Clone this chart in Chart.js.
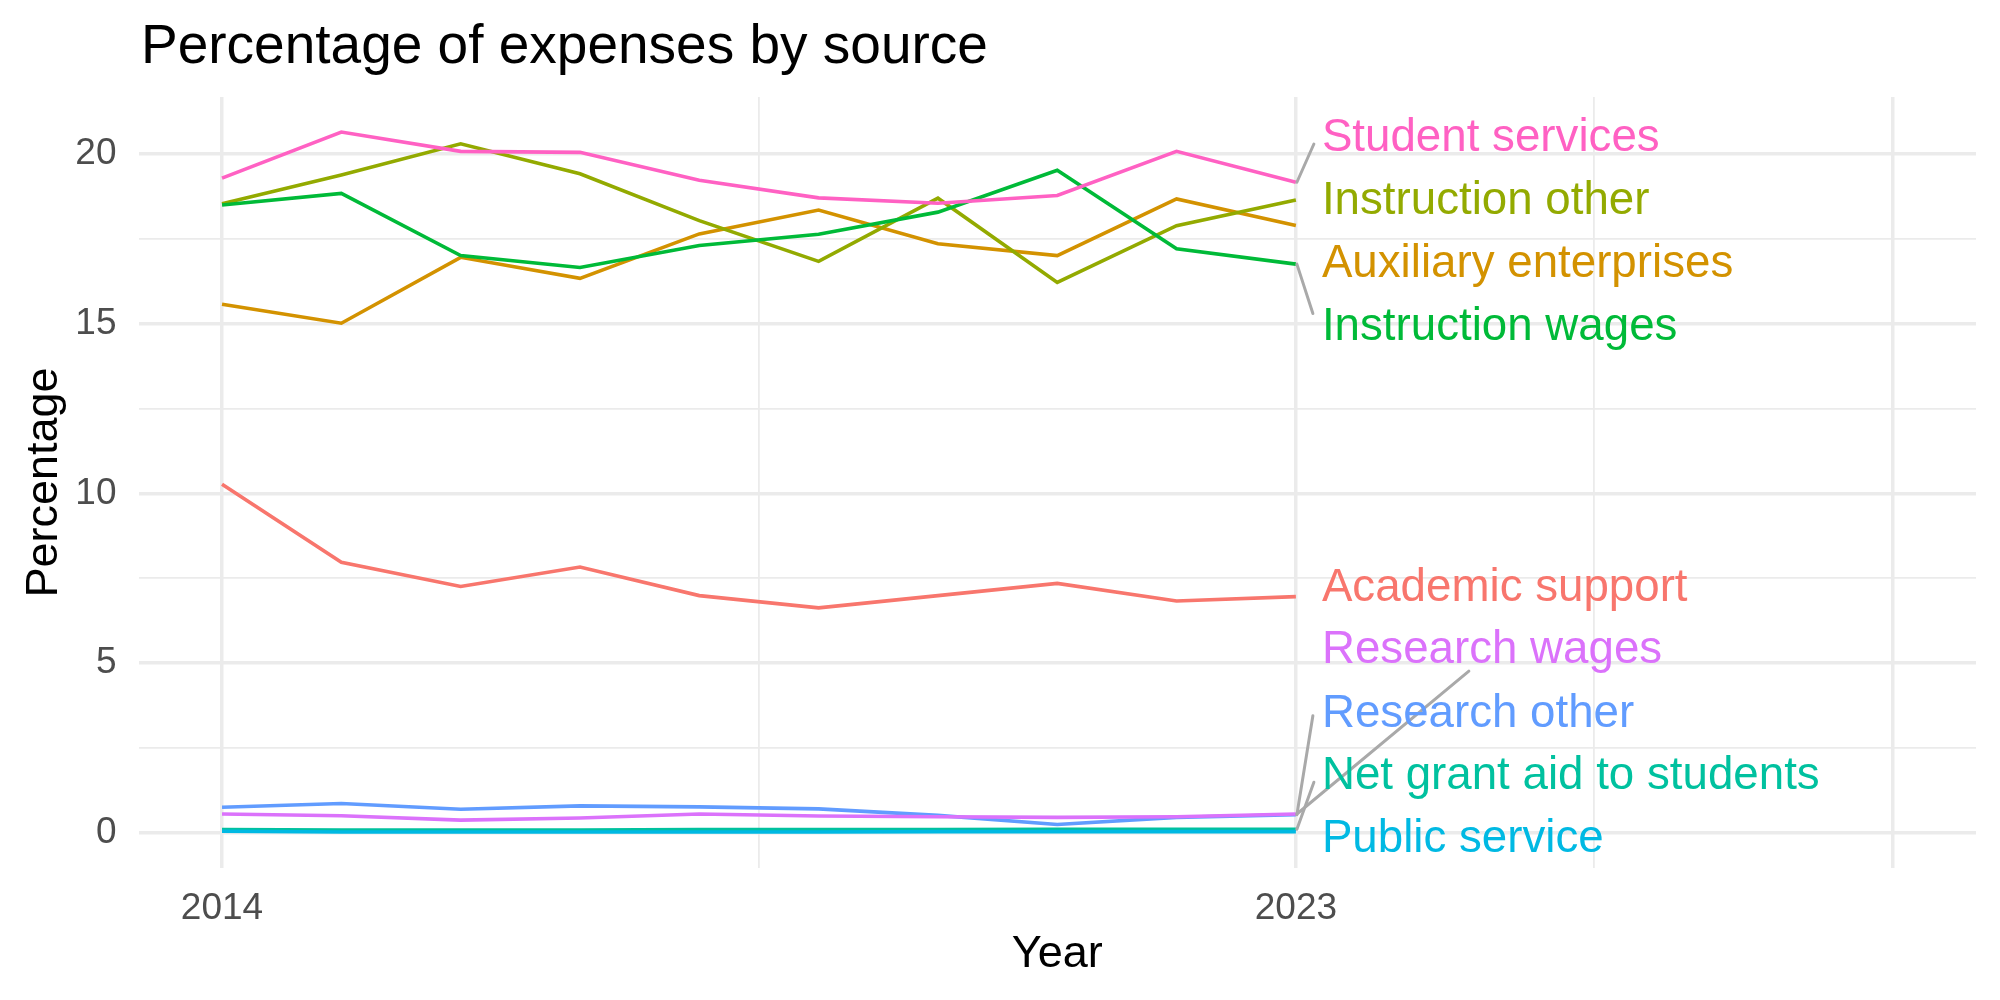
<!DOCTYPE html>
<html>
<head>
<meta charset="utf-8">
<script src="https://cdn.jsdelivr.net/npm/chart.js@4.4.1/dist/chart.umd.min.js"></script>
<style>
  html, body { margin: 0; padding: 0; background: #fff; }
  #wrap { width: 2000px; height: 1000px; }
</style>
</head>
<body>
<div id="wrap"><canvas id="expensesChart"></canvas></div>
<script>
const years = [2014, 2015, 2016, 2017, 2018, 2019, 2020, 2021, 2022, 2023];

const academicSupport = [10.27, 7.97, 7.26, 7.83, 6.99, 6.63, 6.99, 7.35, 6.83, 6.96];
const auxiliaryEnterprises = [15.57, 15.01, 16.95, 16.33, 17.64, 18.34, 17.35, 17.00, 18.67, 17.89];
const instructionOther = [18.53, 19.37, 20.29, 19.41, 18.03, 16.83, 18.69, 16.21, 17.88, 18.64];
const instructionWages = [18.49, 18.83, 17.00, 16.65, 17.30, 17.63, 18.28, 19.51, 17.20, 16.75];
const netGrantAid = [0.10, 0.09, 0.09, 0.09, 0.10, 0.10, 0.10, 0.11, 0.11, 0.11];
const publicService = [0.05, 0.03, 0.03, 0.03, 0.03, 0.03, 0.04, 0.04, 0.04, 0.04];
const researchOther = [0.76, 0.87, 0.70, 0.80, 0.77, 0.71, 0.52, 0.25, 0.46, 0.54];
const researchWages = [0.56, 0.51, 0.38, 0.44, 0.56, 0.50, 0.48, 0.46, 0.48, 0.56];
const studentServices = [19.28, 20.64, 20.07, 20.04, 19.22, 18.70, 18.54, 18.77, 20.07, 19.16];

const seriesNames = ['Academic support', 'Auxiliary enterprises', 'Instruction other', 'Instruction wages',
    'Net grant aid to students', 'Public service', 'Research other', 'Research wages', 'Student services'];
const seriesValues = [academicSupport, auxiliaryEnterprises, instructionOther, instructionWages,
    netGrantAid, publicService, researchOther, researchWages, studentServices];
const seriesColors = ['#F8766D', '#D39200', '#93AA00', '#00BA38', '#00C19F', '#00B9E3', '#619CFF', '#DB72FB', '#FF61C3'];

const yTicks = [0, 2.5, 5, 7.5, 10, 12.5, 15, 17.5, 20];
const xTicks = [2014, 2018.5, 2023, 2025.5, 2028];
const xLabelled = [2014, 2023];
const xMajor = [2014, 2023, 2028];

// where the repelled labels sit (baseline, in data units) and where their connector ends (px from label)
const labelBaseline = [6.83, 16.38, 18.22, 14.53, 1.29, -0.55, 3.13, 5.0, 20.08];
const connectors = [null, null, null, [-9, -26], [-8, -7], null, [-9, -11], [147, 8], [-8, -7]];

const FONT = '"Liberation Sans", Arial, Helvetica, sans-serif';

const labelPlugin = {
    id: 'labels',
    afterDatasetsDraw(chart) {
        const ctx = chart.ctx;
        const xs = chart.scales.x, ys = chart.scales.y;
        const lx = xs.getPixelForValue(2023) + 26;
        ctx.save();
        // connectors
        ctx.strokeStyle = '#A9A9A9';
        ctx.lineWidth = 3;
        ctx.lineCap = 'round';
        seriesNames.forEach((name, i) => {
            const c = connectors[i];
            if (!c) return;
            const vals = seriesValues[i];
            const px = xs.getPixelForValue(years[years.length - 1]) + 1;
            const py = ys.getPixelForValue(vals[vals.length - 1]);
            const by = ys.getPixelForValue(labelBaseline[i]);
            ctx.beginPath();
            ctx.moveTo(px, py);
            ctx.lineTo(lx + c[0], by + c[1]);
            ctx.stroke();
        });
        // labels
        ctx.font = '45.7px ' + FONT;
        ctx.textAlign = 'left';
        ctx.textBaseline = 'alphabetic';
        seriesNames.forEach((name, i) => {
            ctx.fillStyle = seriesColors[i];
            ctx.fillText(name, lx, ys.getPixelForValue(labelBaseline[i]));
        });
        ctx.restore();
    },
    afterDraw(chart) {
        const ctx = chart.ctx;
        const area = chart.chartArea;
        ctx.save();
        ctx.fillStyle = '#000';
        ctx.textBaseline = 'alphabetic';
        ctx.font = '55px ' + FONT;
        ctx.textAlign = 'left';
        ctx.fillText('Percentage of expenses by source', 141, 63);
        ctx.font = '45px ' + FONT;
        ctx.textAlign = 'center';
        ctx.fillText('Year', (area.left + area.right) / 2, 967);
        ctx.translate(57, (area.top + area.bottom) / 2);
        ctx.rotate(-Math.PI / 2);
        ctx.fillText('Percentage', 0, 0);
        ctx.restore();
    }
};

const datasets = seriesNames.map((name, i) => ({
    label: name,
    data: years.map((yr, j) => ({ x: yr, y: seriesValues[i][j] })),
    borderColor: seriesColors[i],
    backgroundColor: seriesColors[i],
    borderWidth: 3.6,
    pointRadius: 0,
    tension: 0,
    fill: false,
    order: seriesNames.length - i
}));

new Chart(document.getElementById('expensesChart').getContext('2d'), {
    type: 'line',
    data: { datasets: datasets },
    plugins: [labelPlugin],
    options: {
        responsive: true,
        maintainAspectRatio: false,
        devicePixelRatio: 1,
        animation: false,
        layout: { padding: { top: 97, right: 24, left: 0, bottom: 0 } },
        plugins: {
            legend: { display: false },
            title: { display: false },
            tooltip: { enabled: false }
        },
        scales: {
            x: {
                type: 'linear',
                min: 2013.3,
                max: 2028.7,
                afterBuildTicks: scale => { scale.ticks = xTicks.map(v => ({ value: v })); },
                afterFit: scale => { scale.height = 132; },
                border: { display: false },
                grid: {
                    color: '#EBEBEB',
                    lineWidth: c => (xMajor.includes(c.tick.value) ? 3.5 : 1.8),
                    drawTicks: false
                },
                ticks: {
                    autoSkip: false,
                    maxRotation: 0,
                    padding: 19,
                    color: '#4D4D4D',
                    font: { family: FONT, size: 37 },
                    callback: v => (xLabelled.includes(v) ? String(v) : '')
                }
            },
            y: {
                type: 'linear',
                min: -1.03,
                max: 21.67,
                afterBuildTicks: scale => { scale.ticks = yTicks.map(v => ({ value: v })); },
                afterFit: scale => { scale.width = 138.5; },
                border: { display: false },
                grid: {
                    color: '#EBEBEB',
                    lineWidth: c => (c.tick.value % 5 === 0 ? 3.5 : 1.8),
                    drawTicks: false
                },
                ticks: {
                    autoSkip: false,
                    padding: 22,
                    color: '#4D4D4D',
                    font: { family: FONT, size: 37 },
                    callback: v => (v % 5 === 0 ? String(v) : '')
                }
            }
        }
    }
});
</script>
</body>
</html>
